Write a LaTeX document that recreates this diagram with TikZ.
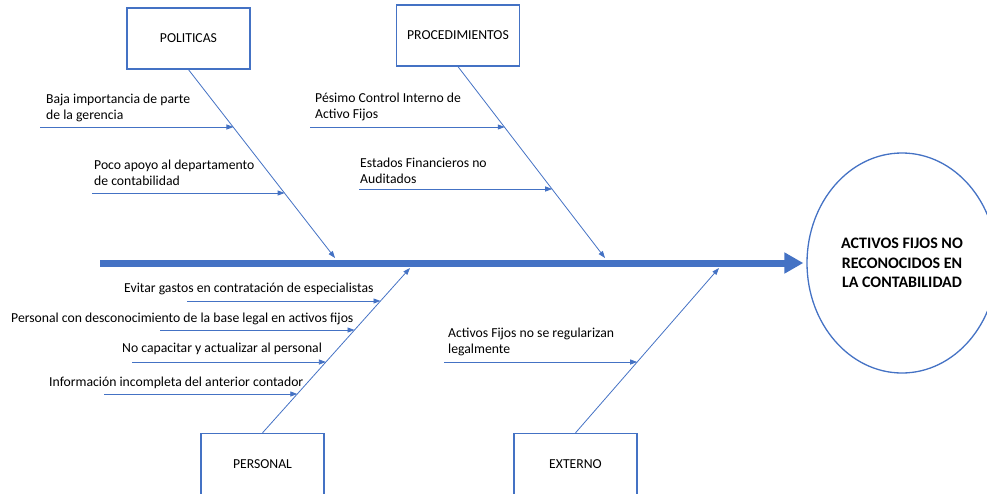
\documentclass[tikz,border=0pt]{standalone}
\usepackage{fontspec}
\setmainfont{Carlito}
\usepackage{xcolor}
\usetikzlibrary{arrows.meta,shapes.geometric}
\definecolor{azul}{HTML}{4472C4}

\begin{document}
\begin{tikzpicture}[x=1pt,y=-1pt,
    every node/.style={inner sep=0pt, font=\fontsize{13.7}{16.5}\selectfont},
    caja/.style={draw=azul, line width=1.3pt, minimum width=123pt, minimum height=61pt},
    texto/.style={anchor=west, align=left},
    espina/.style={draw=azul, line width=0.8pt, -{Triangle[length=7pt,width=5pt]}}]
    \useasboundingbox (0,0) rectangle (987,493);
    \node [ellipse, draw=azul, line width=1.3pt, minimum width=190pt, minimum height=220pt,
        align=center, font=\fontsize{16}{19.5}\selectfont\bfseries] (efecto) at (902,263)
        {ACTIVOS FIJOS NO\\RECONOCIDOS EN\\LA CONTABILIDAD};
    \coordinate (cola) at (100,263);
    \draw [azul, line width=7pt, -{Triangle[length=19pt,width=20pt]}, shorten >=3pt]
        (cola) -- (cola -| efecto.west);
    \node [caja] (pol) at (188.5,38.5) {POLITICAS};
    \node [caja] (proc) at (458,35.5) {PROCEDIMIENTOS};
    \node [caja] (pers) at (262.5,464) {PERSONAL};
    \node [caja] (ext) at (575.5,464) {EXTERNO};
    \coordinate (tpol) at (335,258);
    \coordinate (tproc) at (605,258);
    \coordinate (tpers) at (410,268);
    \coordinate (tex) at (719,268);
    \draw [espina] (pol.south) -- (tpol);
    \draw [espina] (proc.south) -- (tproc);
    \draw [espina] (pers.north) -- (tpers);
    \draw [espina] (ext.north) -- (tex);
    \path (pol.south) -- (tpol) coordinate[pos=0.307] (p1) coordinate[pos=0.656] (p2);
    \path (proc.south) -- (tproc) coordinate[pos=0.318] (p3) coordinate[pos=0.641] (p4);
    \path (pers.north) -- (tpers) coordinate[pos=0.8] (p5) coordinate[pos=0.624] (p6)
        coordinate[pos=0.43] (p7) coordinate[pos=0.236] (p8);
    \path (ext.north) -- (tex) coordinate[pos=0.43] (p9);
    \coordinate (s1) at (40,127);
    \coordinate (s2) at (92,193);
    \coordinate (s3) at (310,127);
    \coordinate (s4) at (359,189);
    \coordinate (s5) at (187,301);
    \coordinate (s6) at (160,330);
    \coordinate (s7) at (132,362);
    \coordinate (s8) at (104,394);
    \coordinate (s9) at (444,362);
    \foreach \i in {1,...,9}
        \draw [espina] (s\i) -- (s\i -| p\i);
    \node [texto] (c1) at (46,108) {Baja importancia de parte\\de la gerencia};
    \node [texto] (c2) at (94,173) {Poco apoyo al departamento\\de contabilidad};
    \node [texto] (c3) at (315,107) {Pésimo Control Interno de\\Activo Fijos};
    \node [texto] (c4) at (360,171) {Estados Financieros no\\Auditados};
    \node [texto] (c5) at (124,289) {Evitar gastos en contratación de especialistas};
    \node [texto] (c6) at (11,319) {Personal con desconocimiento de la base legal en activos fijos};
    \node [texto] (c7) at (122,349) {No capacitar y actualizar al personal};
    \node [texto] (c8) at (49,383) {Información incompleta del anterior contador};
    \node [texto] (c9) at (448,342) {Activos Fijos no se regularizan\\legalmente};
\end{tikzpicture}
\end{document}
